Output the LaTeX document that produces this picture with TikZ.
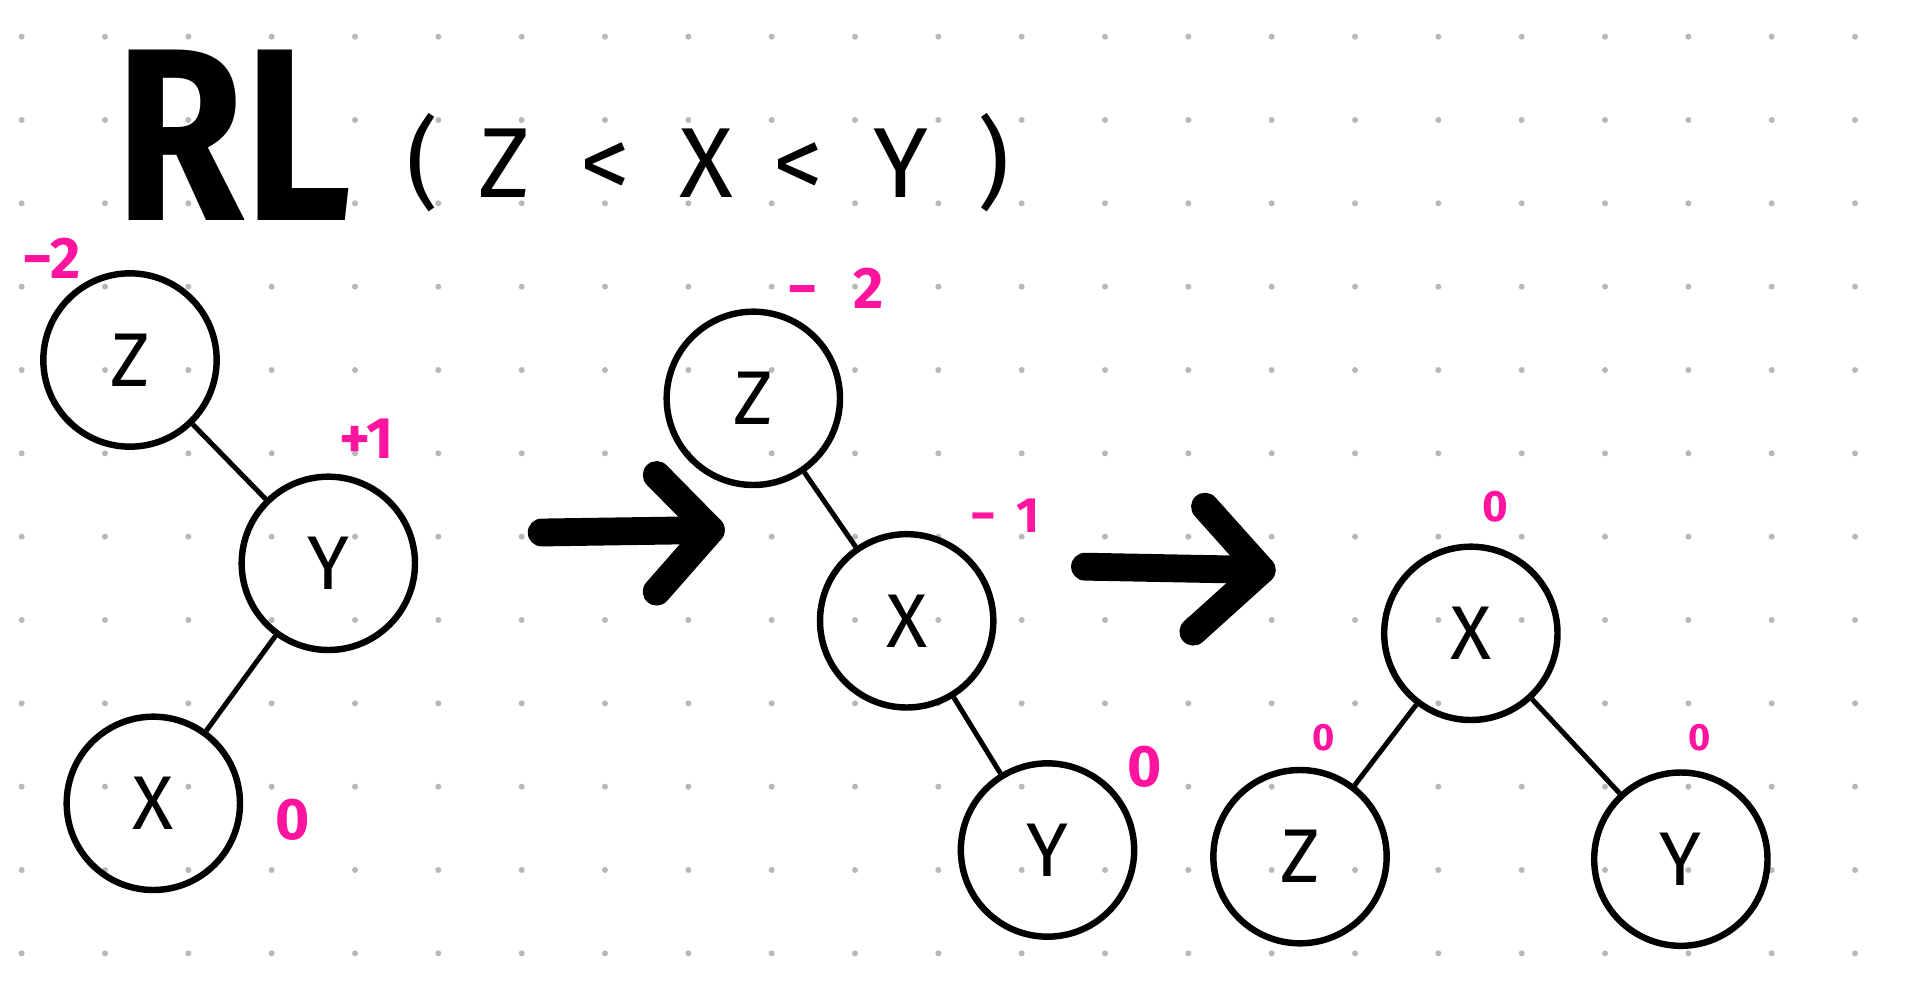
\documentclass[tikz,border=0pt]{standalone}
\usepackage{fontspec}
\setmainfont{Fira Sans}
\usetikzlibrary{arrows.meta}
\definecolor{balpink}{RGB}{255,20,160}

\begin{document}
\begin{tikzpicture}[
    avl/.style={circle, draw=black, line width=2.2pt, minimum size=2.08cm,
      inner sep=0pt, font=\fontsize{26}{30}\selectfont},
    link/.style={line width=1.7pt},
    bal/.style={text=balpink, font=\fontsize{20}{24}\selectfont\bfseries},
    smallbal/.style={text=balpink, font=\fontsize{13}{16}\selectfont\bfseries},
    bigarrow/.style={line width=9.5pt, line cap=round, line join=round},
    title/.style={font=\fontsize{84}{90}\selectfont\bfseries, xscale=0.85},
    order/.style={font=\fontsize{34}{40}\selectfont}
  ]

  \path[use as bounding box] (0,0) rectangle (23.1,12);
  \fill[white] (0,0) rectangle (23.1,12);

  % dot grid
  \foreach \i in {0,...,22}
    \foreach \j in {0,...,11}
      \fill[black!28] (0.26+\i,11.56-\j) circle (0.036);

  % Title
  \node[title] (rl) at (2.8,10.38) {RL};
  \node[order] (ord) at (8.5,10.05)
  {(\hspace{.4em}Z\hspace{.5em}<\hspace{.5em}X\hspace{.4em}<\hspace{.5em}Y\hspace{.5em})};

  % Tree 1: before rotation
  \node[avl] (z1) at (1.56,7.68) {Z};
  \node[avl] (y1) at (3.94,5.24) {Y};
  \node[avl] (x1) at (1.84,2.36) {X};
  \draw[link] (z1) -- (y1);
  \draw[link] (y1) -- (x1);

  \node[bal] (bz1) at (0.62,8.9) {−2};
  \node[bal] (by1) at (4.4,6.74) {+1};
  \node[bal] (bx1) at (3.51,2.16) {0};

  % Arrow 1
  \coordinate (a1s) at (6.50,5.61);
  \coordinate (a1t) at (8.53,5.64);
  \coordinate (a1u) at (7.88,6.30);
  \coordinate (a1d) at (7.88,4.90);
  \draw[bigarrow] (a1s) -- (a1t);
  \draw[bigarrow] (a1u) -- (a1t) -- (a1d);

  % Tree 2: after right rotation
  \node[avl] (z2) at (9.04,7.22) {Z};
  \node[avl] (x2) at (10.88,4.55) {X};
  \node[avl] (y2) at (12.57,1.8) {Y};
  \draw[link] (z2) -- (x2);
  \draw[link] (x2) -- (y2);

  \node[bal] (bz2) at (10.03,8.54) {−\hspace{.6em}2};
  \node[bal, font=\fontsize{17}{20}\selectfont\bfseries] (bx2) at (12.06,5.81) {−\hspace{.4em}1};
  \node[bal] (by2) at (13.74,2.8) {0};

  % Arrow 2
  \coordinate (a2s) at (13.02,5.20);
  \coordinate (a2t) at (15.14,5.16);
  \coordinate (a2u) at (14.46,5.92);
  \coordinate (a2d) at (14.32,4.42);
  \draw[bigarrow] (a2s) -- (a2t);
  \draw[bigarrow] (a2u) -- (a2t) -- (a2d);

  % Tree 3: after left rotation
  \node[avl] (x3) at (17.65,4.4) {X};
  \node[avl] (z3) at (15.6,1.72) {Z};
  \node[avl] (y3) at (20.17,1.69) {Y};
  \draw[link] (x3) -- (z3);
  \draw[link] (x3) -- (y3);

  \node[bal, font=\fontsize{15}{18}\selectfont\bfseries] (bx3) at (17.94,5.92) {0};
  \node[smallbal] (bz3) at (15.88,3.15) {0};
  \node[smallbal] (by3) at (20.4,3.15) {0};

\end{tikzpicture}
\end{document}
